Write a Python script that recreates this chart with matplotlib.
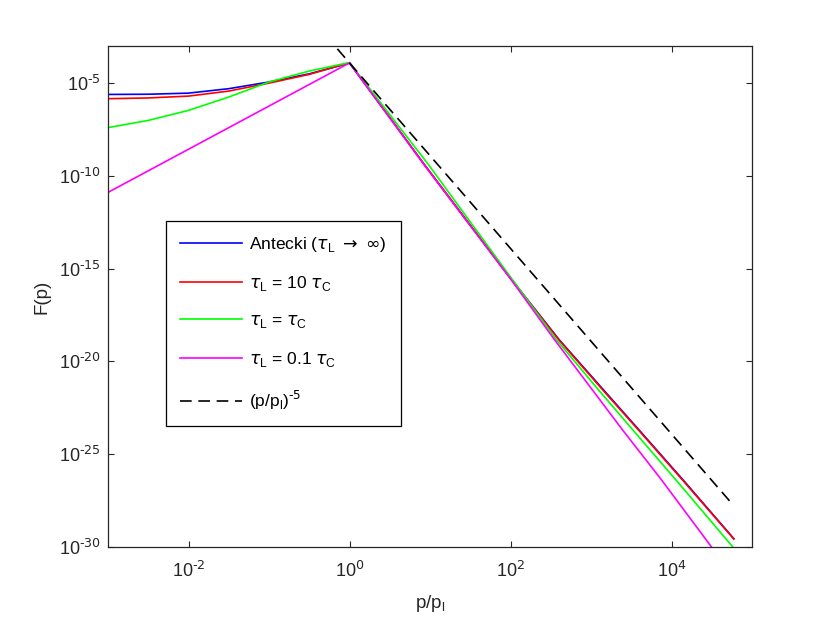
import numpy as np
import matplotlib
matplotlib.use("Agg")
import matplotlib.pyplot as plt
from matplotlib.ticker import FixedFormatter

plt.rcParams['font.family'] = ['Liberation Sans', 'DejaVu Sans']
plt.rcParams['mathtext.fontset'] = 'dejavusans'
plt.rcParams['axes.unicode_minus'] = False

# ---- data (log10 values) ----
# Antecki (tau_L -> inf)
logp_blue = [-3.0, -2.5, -2.0, -1.5, -1.0, -0.5, 0.0, 0.935, 2.0, 2.605, 3.159, 3.615, 4.153, 4.774]
logF_blue = [-5.61, -5.60, -5.54, -5.30, -4.94, -4.50, -3.92, -9.42, -15.52, -18.83, -21.55, -23.78, -26.43, -29.55]
# tau_L = 10 tau_C
logp_red = [-3.0, -2.5, -2.0, -1.5, -1.0, -0.5, 0.0, 0.935, 2.0, 2.605, 3.159, 3.615, 4.153, 4.774]
logF_red = [-5.84, -5.80, -5.70, -5.43, -5.00, -4.53, -3.90, -9.42, -15.52, -18.86, -21.60, -23.82, -26.47, -29.57]
# tau_L = tau_C
logp_green = [-3.0, -2.5, -2.0, -1.5, -1.0, -0.5, 0.0, 0.985, 2.0, 2.571, 3.077, 3.512, 4.05, 4.766]
logF_green = [-7.40, -7.01, -6.47, -5.75, -4.94, -4.35, -3.89, -9.42, -15.45, -18.83, -21.45, -23.65, -26.36, -30.02]
# tau_L = 0.1 tau_C
logp_mag = [-3.0, -1.5, 0.0, 0.935, 2.0, 2.547, 3.015, 3.388, 3.872, 4.497, 4.77]
logF_mag = [-10.89, -7.40, -3.91, -9.45, -15.55, -18.83, -21.52, -23.67, -26.36, -30.0, -31.57]
# (p/p_l)^-5 reference
logp_ref = [-0.3, 4.77]
logF_ref = [-2.41, -27.76]

labels = [r'Antecki ($\tau_\mathregular{L}$ $\to$ $\infty$)',
          r'$\tau_\mathregular{L}$ = 10 $\tau_\mathregular{C}$',
          r'$\tau_\mathregular{L}$ = $\tau_\mathregular{C}$',
          r'$\tau_\mathregular{L}$ = 0.1 $\tau_\mathregular{C}$',
          r'(p/p$_\mathregular{l}$)$^\text{-5}$']

xtick_exp = [-2, 0, 2, 4]
ytick_exp = [-30, -25, -20, -15, -10, -5]

fig = plt.figure(figsize=(8.30, 6.23), dpi=100)
ax = fig.add_axes([108/830, 1-547/623, (752-108)/830, (547-46)/623])

def pw(a):
    return 10.0 ** np.asarray(a, dtype=float)

lw = 1.2
ax.plot(pw(logp_blue), pw(logF_blue), color=(0, 0, 1), lw=lw, label=labels[0])
ax.plot(pw(logp_red), pw(logF_red), color=(1, 0, 0), lw=lw, label=labels[1])
ax.plot(pw(logp_green), pw(logF_green), color=(0, 1, 0), lw=lw, label=labels[2])
ax.plot(pw(logp_mag), pw(logF_mag), color=(1, 0, 1), lw=lw, label=labels[3])
ax.plot(pw(logp_ref), pw(logF_ref), color='k', lw=lw, linestyle=(0, (7, 4)), label=labels[4])

ax.set_xscale('log')
ax.set_yscale('log')
ax.set_xlim(1e-3, 1e5)
ax.set_ylim(1e-30, 1e-3)
ax.set_xticks(pw(xtick_exp))
ax.set_yticks(pw(ytick_exp))
ax.minorticks_off()
ax.xaxis.set_major_formatter(FixedFormatter([r'$\mathregular{10}^\text{%d}$' % e for e in xtick_exp]))
ax.yaxis.set_major_formatter(FixedFormatter([r'$\mathregular{10}^\text{%d}$' % e for e in ytick_exp]))
ax.tick_params(which='both', direction='in', top=True, right=True, length=4.6,
               width=0.8, color=(0.15, 0.15, 0.15), labelcolor=(0.15, 0.15, 0.15),
               labelsize=13)
ax.tick_params(axis='x', pad=10)
ax.tick_params(axis='y', pad=5)
for s in ax.spines.values():
    s.set_color((0.15, 0.15, 0.15))
    s.set_linewidth(0.9)

ax.set_xlabel(r'p/p$_\mathregular{l}$', fontsize=13.5, color=(0.15, 0.15, 0.15), labelpad=9)
ax.set_ylabel('F(p)', fontsize=13.5, color=(0.15, 0.15, 0.15), labelpad=6)

leg = ax.legend(loc='upper left', bbox_to_anchor=((166-108)/644, (547-221)/501),
                fontsize=12.5, frameon=True, fancybox=False, framealpha=1,
                edgecolor='k', handlelength=3.6, handletextpad=0.4,
                labelspacing=1.15, borderpad=0.8, borderaxespad=0)
leg.get_frame().set_linewidth(0.9)

fig.savefig('out.png', dpi=100, facecolor='white')
